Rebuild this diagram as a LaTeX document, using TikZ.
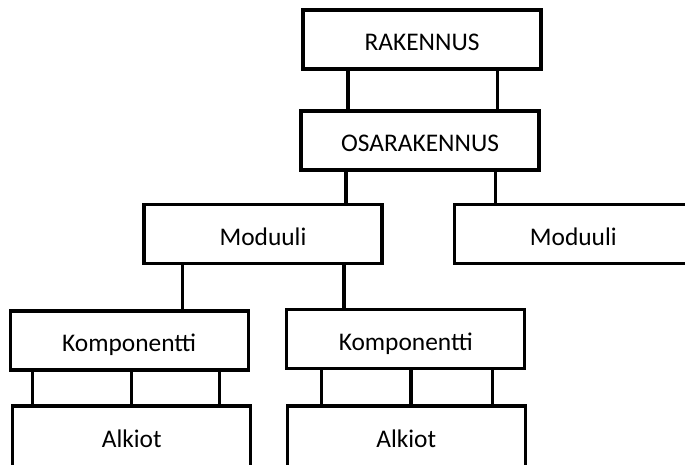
\documentclass[tikz,border=0pt]{standalone}
\usepackage{fontspec}
\setmainfont{Carlito}
\begin{document}
\begin{tikzpicture}[x=1pt,y=-1pt,
  box/.style={draw=black,line width=3.2pt,fill=white,minimum width=238pt,minimum height=59pt,
    inner sep=0pt,text height=22pt,text depth=0pt,
    font=\fontsize{25.4}{30}\selectfont},
  openbox/.style={box,minimum height=72pt,text height=11.4pt},
  link/.style={draw=black,line width=3.4pt}]
\useasboundingbox (0,0) rectangle (685,464);
\clip (0,0) rectangle (685,464);
\node[box] (R)  at (422,39.5)   {RAKENNUS};
\node[box] (O)  at (420,140.5)  {OSARAKENNUS};
\node[box] (ML) at (263,234.2)  {Moduuli};
\node[box] (MR) at (573.3,234)  {Moduuli};
\node[box] (KL) at (129.2,340.5){Komponentti};
\node[box] (KR) at (405.8,339)  {Komponentti};
\node[openbox] (AL) at (131.7,442){Alkiot};
\node[openbox] (AR) at (406.2,442){Alkiot};
% x positions of connectors
\coordinate (a1) at (348,0);
\coordinate (a2) at (497.5,0);
\coordinate (b1) at (346,0);
\coordinate (b2) at (495.7,0);
\coordinate (c1) at (182.7,0);
\coordinate (c2) at (344,0);
\coordinate (d1) at (32.7,0);
\coordinate (d2) at (131.7,0);
\coordinate (d3) at (219.3,0);
\coordinate (e1) at (321.7,0);
\coordinate (e2) at (411,0);
\coordinate (e3) at (492.3,0);
\draw[link] (R.south -| a1) -- (O.north -| a1);
\draw[link] (R.south -| a2) -- (O.north -| a2);
\draw[link] (O.south -| b1) -- (ML.north -| b1);
\draw[link] (O.south -| b2) -- (MR.north -| b2);
\draw[link] (ML.south -| c1) -- (KL.north -| c1);
\draw[link] (ML.south -| c2) -- (KR.north -| c2);
\draw[link] (KL.south -| d1) -- (AL.north -| d1);
\draw[link] (KL.south -| d2) -- (AL.north -| d2);
\draw[link] (KL.south -| d3) -- (AL.north -| d3);
\draw[link] (KR.south -| e1) -- (AR.north -| e1);
\draw[link] (KR.south -| e2) -- (AR.north -| e2);
\draw[link] (KR.south -| e3) -- (AR.north -| e3);
\end{tikzpicture}
\end{document}
